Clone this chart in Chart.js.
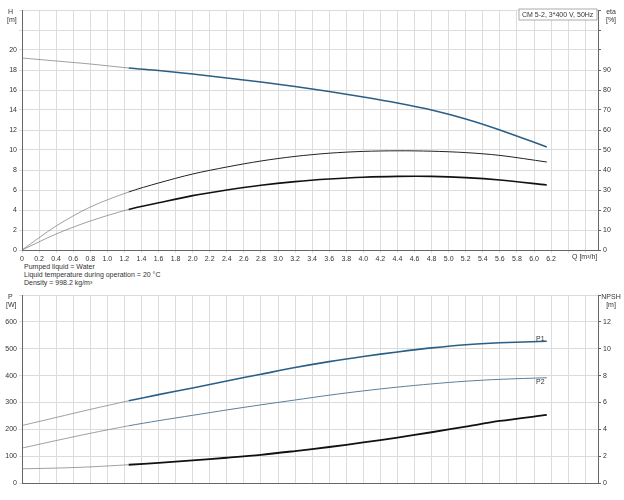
<!DOCTYPE html>
<html>
<head>
<meta charset="utf-8">
<script src="https://cdn.jsdelivr.net/npm/chart.js@4.4.1/dist/chart.umd.min.js"></script>
<style>
body { margin:0; background:#fff; font-family:"Liberation Sans", Arial, sans-serif; }
#wrap { position:relative; width:624px; height:500px; }
#top { position:absolute; left:0; top:0; }
#bot { position:absolute; left:0; top:285px; }
#info { position:absolute; left:24px; top:263px; font-size:7px; line-height:8px; color:#333333; }
</style>
</head>
<body>
<div id="wrap">
<canvas id="top" width="624" height="262"></canvas>
<div id="info">Pumped liquid = Water<br>Liquid temperature during operation = 20 °C<br>Density = 998.2 kg/m³</div>
<canvas id="bot" width="624" height="215"></canvas>
</div>
<script>
var q = [0, 0.4, 0.8, 1.25, 1.6, 2.0, 2.4, 2.8, 3.2, 3.6, 4.0, 4.4, 4.8, 5.2, 5.6, 6.15];
var head = [19.2, 18.9, 18.6, 18.2, 17.95, 17.6, 17.2, 16.8, 16.35, 15.85, 15.3, 14.7, 14.0, 13.1, 12.0, 10.3];
var etaUpper = [0, 12, 21.5, 29, 33.5, 38, 41.5, 44.5, 46.8, 48.4, 49.3, 49.6, 49.4, 48.7, 47.3, 44];
var etaLower = [0, 8, 14.5, 20.3, 23.6, 27.2, 30, 32.4, 34.2, 35.5, 36.4, 36.8, 36.8, 36.2, 35, 32.5];
var p1 = [214, 244, 274, 306, 329, 354, 380, 405, 430, 452, 471, 488, 503, 515, 522, 528];
var p2 = [130, 158, 185, 213, 232, 252, 272, 291, 309, 327, 343, 357, 369, 379, 386, 392];
var npsh = [1.06, 1.11, 1.2, 1.36, 1.5, 1.68, 1.88, 2.1, 2.38, 2.68, 3.02, 3.38, 3.78, 4.2, 4.62, 5.07];

var qMax = 6.75;
var lineStart = 1.25;
var font = { family: '"Liberation Sans", Arial, sans-serif', size: 7 };
var txt = '#333';
var grid = '#dcdcdc';

function pts(ys) {
	return q.map(function(x, i){ return { x: x, y: ys[i] }; });
}

function ds(ys, color, thin, axis) {
	return {
		data: pts(ys), yAxisID: axis, borderColor: color, pointRadius: 0,
		tension: 0.3, fill: false,
		segment: {
			borderWidth: function(c){ return c.p0.parsed.x < lineStart ? 0.7 : thin; },
			borderColor: function(c){ return c.p0.parsed.x < lineStart ? '#777' : color; }
		}
	};
}

function fixW(w) { return function(s){ s.width = w; }; }
function fixH(h) { return function(s){ s.height = h; }; }

var labels = {
	id: 'labels',
	afterDraw: function(chart, args, opts) {
		var c = chart.ctx;
		c.save();
		c.font = '7px "Liberation Sans", Arial, sans-serif';
		c.fillStyle = txt;
		opts.items.forEach(function(t){
			c.textAlign = t.align || 'left';
			c.fillText(t.text, t.x, t.y);
		});
		if (opts.box) {
			var b = opts.box;
			c.strokeStyle = '#888'; c.lineWidth = 0.7;
			c.fillStyle = '#fff';
			c.fillRect(b.x, b.y, b.w, b.h);
			c.strokeRect(b.x, b.y, b.w, b.h);
			c.fillStyle = txt; c.textAlign = 'left';
			c.fillText(b.text, b.x + 3, b.y + 8);
		}
		c.restore();
	}
};

var xTicks = {
	font: font, color: txt, padding: 2, maxRotation: 0, autoSkip: false, stepSize: 0.2, includeBounds: false,
	callback: function(v){ return v > 6.21 ? '' : (v === 0 ? '0' : v.toFixed(1)); }
};

new Chart(document.getElementById('top'), {
	type: 'line',
	data: { datasets: [
		ds(head, '#2b5f86', 1.6, 'y'),
		ds(etaUpper, '#222', 1.0, 'y1'),
		ds(etaLower, '#111', 1.6, 'y1')
	]},
	options: {
		responsive: false, animation: false, events: [],
		layout: { padding: { top: 10 } },
		plugins: {
			legend: { display: false }, tooltip: { enabled: false },
			labels: {
				items: [
					{ text: 'H', x: 8, y: 14 }, { text: '[m]', x: 7, y: 22 },
					{ text: 'eta', x: 611, y: 14, align: 'center' }, { text: '[%]', x: 611, y: 22, align: 'center' },
					{ text: 'Q [m³/h]', x: 572, y: 259 }
				],
				box: { x: 519, y: 9, w: 78, h: 11, text: 'CM 5-2, 3*400 V, 50Hz' }
			}
		},
		scales: {
			x: { type: 'linear', min: 0, max: qMax, grid: { color: grid, drawTicks: true, tickLength: 3 },
				border: { color: '#666' }, ticks: xTicks, afterFit: fixH(12) },
			y: { min: 0, max: 24, grid: { color: grid, tickLength: 3 }, border: { color: '#666' },
				ticks: { font: font, color: txt, stepSize: 2, padding: 2, callback: function(v){ return v > 20 ? '' : v; } },
				afterFit: fixW(22) },
			y1: { position: 'right', min: 0, max: 120, grid: { drawOnChartArea: false, tickLength: 3, color: '#666' },
				border: { color: '#666' },
				ticks: { font: font, color: txt, stepSize: 10, padding: 2, callback: function(v){ return v > 90 ? '' : v; } },
				afterFit: fixW(26) }
		}
	},
	plugins: [labels]
});

new Chart(document.getElementById('bot'), {
	type: 'line',
	data: { datasets: [
		ds(p1, '#2b5f86', 1.6, 'y'),
		ds(p2, '#5b7f99', 1.0, 'y'),
		ds(npsh, '#111', 1.8, 'y1')
	]},
	options: {
		responsive: false, animation: false, events: [],
		layout: { padding: { top: 10 } },
		plugins: {
			legend: { display: false }, tooltip: { enabled: false },
			labels: {
				items: [
					{ text: 'P', x: 8, y: 14 }, { text: '[W]', x: 6, y: 22 },
					{ text: 'NPSH', x: 611, y: 14, align: 'center' }, { text: '[m]', x: 611, y: 22, align: 'center' },
					{ text: 'P1', x: 536, y: 56 }, { text: 'P2', x: 536, y: 99 }
				]
			}
		},
		scales: {
			x: { type: 'linear', min: 0, max: qMax, grid: { color: grid, tickLength: 0 },
				border: { color: '#666' }, ticks: { display: false, stepSize: 0.2, includeBounds: false },
				afterFit: fixH(17) },
			y: { min: 0, max: 700, grid: { color: grid, tickLength: 3 }, border: { color: '#666' },
				ticks: { font: font, color: txt, stepSize: 100, padding: 2, callback: function(v){ return v > 600 ? '' : v; } },
				afterFit: fixW(22) },
			y1: { position: 'right', min: 0, max: 14, grid: { drawOnChartArea: false, tickLength: 3, color: '#666' },
				border: { color: '#666' },
				ticks: { font: font, color: txt, stepSize: 2, padding: 2, callback: function(v){ return v > 12 ? '' : v; } },
				afterFit: fixW(26) }
		}
	},
	plugins: [labels]
});
</script>
</body>
</html>
